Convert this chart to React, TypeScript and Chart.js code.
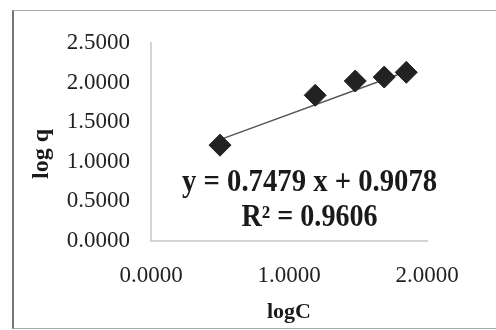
import React, { useEffect, useRef } from "react";
import { Chart, registerables } from "chart.js";

Chart.register(...registerables);

const logC = [0.5, 1.19, 1.48, 1.69, 1.85];
const logQ = [1.21, 1.84, 2.02, 2.07, 2.13];
const trendX = [0.5, 1.85];
const trendY = [1.28, 2.14];
const eqLines = ["y = 0.7479 x + 0.9078", "R\u00b2 = 0.9606"];
const eqPosX = 1.149;
const eqPosY = [0.73, 0.29];
const xTitle = "logC";
const yTitle = "log q";

const eqPlugin = {
  id: "eqText",
  afterDatasetsDraw(chart: any) {
    const { ctx, scales } = chart;
    ctx.save();
    ctx.fillStyle = "#1a1a1a";
    ctx.font = "bold 31px 'Liberation Serif', serif";
    ctx.textAlign = "center";
    ctx.textBaseline = "middle";
    const cx = scales.x.getPixelForValue(eqPosX);
    ctx.fillText(eqLines[0], cx, scales.y.getPixelForValue(eqPosY[0]), 255);
    ctx.fillText(eqLines[1], cx, scales.y.getPixelForValue(eqPosY[1]), 136);
    ctx.restore();
  },
};

export default function App() {
  const ref = useRef<HTMLCanvasElement>(null);
  useEffect(() => {
    if (!ref.current) return;
    const chart = new Chart(ref.current, {
      type: "scatter",
      data: {
        datasets: [
          {
            label: "log q",
            data: logC.map((x, i) => ({ x, y: logQ[i] })),
            pointStyle: "rectRot",
            pointRadius: 11,
            backgroundColor: "#222",
            borderColor: "#222",
            showLine: false,
            order: 1,
          },
          {
            label: "trend",
            data: trendX.map((x, i) => ({ x, y: trendY[i] })),
            showLine: true,
            pointRadius: 0,
            borderColor: "#555",
            borderWidth: 1.5,
            order: 2,
          },
        ],
      },
      options: {
        animation: false,
        responsive: false,
        layout: { padding: { left: 0, top: 43, right: 69, bottom: 0 } },
        plugins: { legend: { display: false }, tooltip: { enabled: false } },
        scales: {
          x: {
            type: "linear",
            min: 0,
            max: 2,
            grid: { display: false, drawTicks: false },
            border: { display: true, color: "#d4d4d4", width: 2 },
            ticks: {
              stepSize: 1,
              padding: 21,
              color: "#222",
              font: { family: "'Liberation Serif', serif", size: 23 },
              callback: (v: any) => Number(v).toFixed(4),
            },
            title: {
              display: true,
              text: xTitle,
              color: "#1a1a1a",
              font: { family: "'Liberation Serif', serif", size: 22, weight: "bold" },
              padding: { top: 0, bottom: 4 },
            },
            afterFit: (s: any) => {
              s.height = 89;
            },
          },
          y: {
            min: 0,
            max: 2.5,
            grid: { display: false, drawTicks: false },
            border: { display: true, color: "#d4d4d4", width: 2 },
            ticks: {
              stepSize: 0.5,
              padding: 21,
              color: "#222",
              font: { family: "'Liberation Serif', serif", size: 23 },
              callback: (v: any) => Number(v).toFixed(4),
            },
            title: {
              display: true,
              text: yTitle + "    ",
              color: "#1a1a1a",
              font: { family: "'Liberation Serif', serif", size: 24, weight: "bold" },
              padding: { top: 27, bottom: 0 },
            },
            afterFit: (s: any) => {
              s.width = 151;
            },
          },
        },
      },
      plugins: [eqPlugin],
    });
    return () => chart.destroy();
  }, []);
  return (
    <div style={{ position: "absolute", left: 0, top: 0, width: 496, height: 330, background: "#fff" }}>
      <canvas ref={ref} width={496} height={330} style={{ position: "absolute", left: 0, top: 0 }} />
      <div
        style={{
          position: "absolute",
          left: 12,
          top: 10,
          width: 490,
          height: 317,
          borderLeft: "2px solid #777",
          borderTop: "1px solid #aaa",
          borderBottom: "1px solid #aaa",
          pointerEvents: "none",
        }}
      />
    </div>
  );
}
